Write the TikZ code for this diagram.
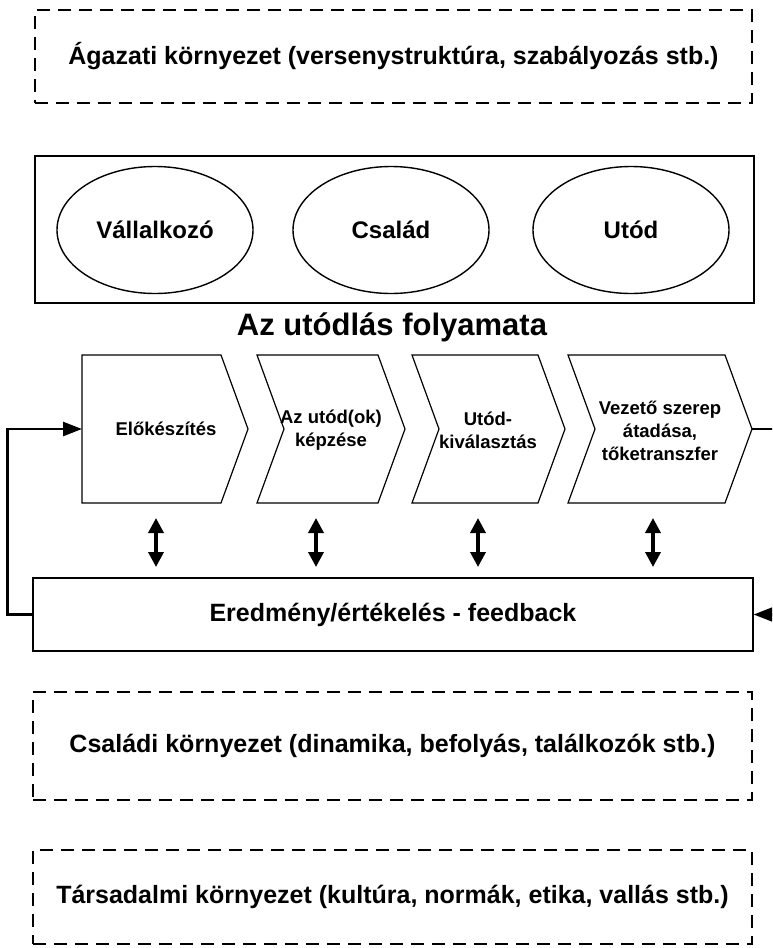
\documentclass[tikz,border=0pt]{standalone}
\usepackage{fontspec}
\setmainfont{Liberation Sans}
\usetikzlibrary{arrows.meta,shapes.geometric}
\begin{document}
\begin{tikzpicture}[x=1pt,y=-1pt,
  dashbox/.style={draw, line width=1.4pt, dash pattern=on 13pt off 8pt, inner sep=0pt},
  solidbox/.style={draw, line width=1.2pt, inner sep=0pt},
  ell/.style={draw, ellipse, line width=1.4pt, minimum width=196pt, minimum height=127pt, inner sep=0pt},
  chev/.style={draw, line width=1.2pt, line join=miter},
  bigtxt/.style={font=\fontsize{25}{30}\selectfont\bfseries},
  elltxt/.style={font=\fontsize{24}{29}\selectfont\bfseries},
  chtxt/.style={font=\fontsize{18.5}{23}\selectfont\bfseries, align=center, inner sep=0pt},
  fbline/.style={line width=2.6pt, line cap=butt},
  tipA/.style={-{Triangle[length=19pt,width=14pt]}},
  dbl/.style={line width=3.5pt, {Triangle[length=15pt,width=15pt]}-{Triangle[length=15pt,width=15pt]}}
]
\useasboundingbox (0,0) rectangle (772,948);
\clip (0,0) rectangle (772,948);

% top dashed box
\node[dashbox, minimum width=717pt, minimum height=93pt, bigtxt] (agazat) at (393.5,56.5)
  {Ágazati környezet (versenystruktúra, szabályozás stb.)};

% actors box
\node[solidbox, minimum width=719pt, minimum height=147pt] (actors) at (394.5,229.5) {};
\node[ell, elltxt] (vall) at (155,230) {Vállalkozó};
\node[ell, elltxt] (csal) at (391,230) {Család};
\node[ell, elltxt] (utod) at (631,230) {Utód};

% title
\node[font=\fontsize{31}{36}\selectfont\bfseries] (title) at (392,327) {Az utódlás folyamata};

% chevrons
\draw[chev] (82,355) -- (221,355) -- (248,429) -- (221,503) -- (82,503) -- cycle;
\draw[chev] (257,355) -- (378,355) -- (405,429) -- (378,503) -- (257,503) -- (284,429) -- cycle;
\draw[chev] (412,355) -- (538,355) -- (565,429) -- (538,503) -- (412,503) -- (439,429) -- cycle;
\draw[chev] (568,355) -- (725,355) -- (752,429) -- (725,503) -- (568,503) -- (595,429) -- cycle;
\coordinate (c1w) at (82,429);
\coordinate (c4tip) at (752,429);

\node[chtxt] (t1) at (166,429) {Előkészítés};
\node[chtxt] (t2) at (331,430) {Az utód(ok)\\képzése};
\node[chtxt] (t3) at (488,430) {Utód-\\kiválasztás};
\node[chtxt] (t4) at (660,431) {Vezető szerep\\átadása,\\tőketranszfer};

% feedback box
\node[solidbox, minimum width=720pt, minimum height=73pt, bigtxt] (fb) at (393,614.5)
  {Eredmény/értékelés - feedback};

% double arrows
\foreach \x/\n in {156/a,316/b,478/c,653/d}{
  \coordinate (up\n) at (\x,518);
  \coordinate (dn\n) at (\x,567);
  \draw[dbl] (up\n) -- (dn\n);
}

% feedback loop
\draw[fbline, tipA] (fb.west) -- ++(-25,0) |- (c1w);
\draw[fbline, tipA] (c4tip) -- ++(40,0) |- (fb.east);

% bottom dashed boxes
\node[dashbox, minimum width=719pt, minimum height=108pt, bigtxt] (csaladi) at (392.5,746)
  {Családi környezet (dinamika, befolyás, találkozók stb.)};
\node[dashbox, minimum width=719pt, minimum height=94pt, bigtxt] (tars) at (392.5,897)
  {Társadalmi környezet (kultúra, normák, etika, vallás stb.)};
\end{tikzpicture}
\end{document}
